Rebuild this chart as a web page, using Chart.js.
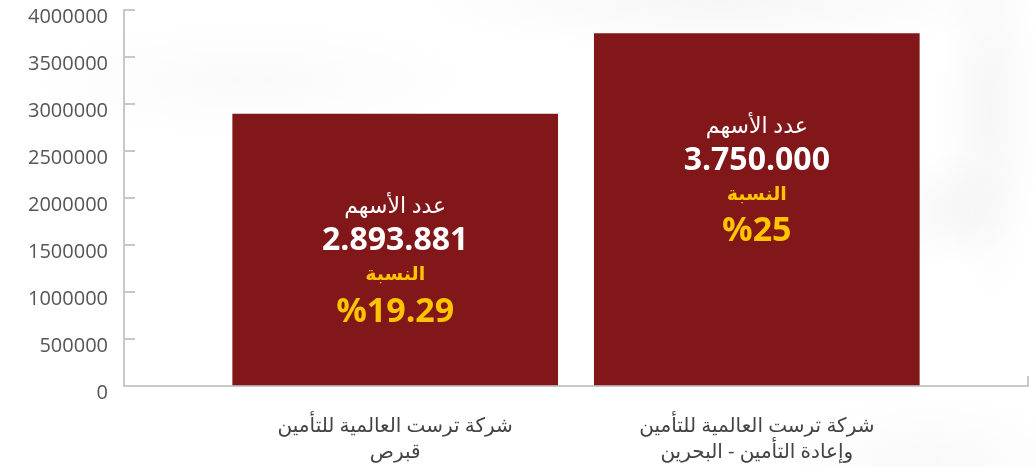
<!DOCTYPE html>
<html>
<head>
<meta charset="utf-8">
<script src="https://cdn.jsdelivr.net/npm/chart.js@4.4.1/dist/chart.umd.min.js"></script>
<style>
  html, body { margin: 0; padding: 0; }
  body {
    width: 1036px;
    height: 467px;
    overflow: hidden;
    background:
      radial-gradient(ellipse 420px 70px at 720px 0px, rgba(0,0,0,0.035), rgba(0,0,0,0) 75%),
      radial-gradient(ellipse 320px 80px at 250px 80px, rgba(0,0,0,0.02), rgba(0,0,0,0) 75%),
      radial-gradient(ellipse 70px 260px at 990px 110px, rgba(0,0,0,0.035), rgba(0,0,0,0) 75%),
      radial-gradient(ellipse 90px 80px at 950px 210px, rgba(0,0,0,0.03), rgba(0,0,0,0) 75%),
      radial-gradient(ellipse 200px 90px at 930px 460px, rgba(0,0,0,0.025), rgba(0,0,0,0) 75%),
      #ffffff;
  }
  #wrap { position: relative; width: 1036px; height: 467px; }
</style>
</head>
<body>
<div id="wrap"><canvas id="sharesChart"></canvas></div>
<script>
// company names (two lines each), share counts and the texts printed in the bars
const companies = [
    ['شركة ترست العالمية للتأمين', 'قبرص'],
    ['شركة ترست العالمية للتأمين', 'وإعادة التأمين - البحرين']
];
const shareCounts = [2893881, 3750000];
const shareTexts = ['2.893.881', '3.750.000'];
const percentTexts = ['%19.29', '%25'];
const sharesTitle = 'عدد الأسهم';
const percentTitle = 'النسبة';

const yMin = 0;
const yMax = 4000000;
const yStep = 500000;

// empty slots between and around the bars
let labels = [''];
let values = [null];
let textIndex = [null];
companies.forEach((c, i) => {
    labels.push(c, '');
    values.push(shareCounts[i], null);
    textIndex.push(i, null);
});

const fontFamily = "'Open Sans', 'DejaVu Sans', sans-serif";
const axisGray = '#c8c8c8';

const barText = {
    id: 'barText',
    afterDatasetsDraw(chart) {
        const ctx = chart.ctx;
        const meta = chart.getDatasetMeta(0);
        ctx.save();
        ctx.textAlign = 'center';
        ctx.textBaseline = 'middle';
        meta.data.forEach((bar, i) => {
            const k = textIndex[i];
            if (k === null) return;
            const x = bar.x;
            const top = bar.y;
            ctx.fillStyle = '#ffffff';
            ctx.font = "22px " + fontFamily;
            ctx.fillText(sharesTitle, x, top + 93);
            ctx.font = "bold 32px " + fontFamily;
            ctx.fillText(shareTexts[k], x, top + 127);
            ctx.fillStyle = '#ffc400';
            ctx.font = "bold 19px " + fontFamily;
            ctx.fillText(percentTitle, x, top + 161);
            ctx.font = "bold 34px " + fontFamily;
            ctx.fillText(percentTexts[k], x, top + 198);
        });
        ctx.restore();
    }
};

const ctx = document.getElementById('sharesChart').getContext('2d');
const chart = new Chart(ctx, {
    type: 'bar',
    data: {
        labels: labels,
        datasets: [{
            data: values,
            backgroundColor: '#82171a',
            borderWidth: 0,
            barThickness: 325,
            skipNull: true
        }]
    },
    options: {
        responsive: true,
        maintainAspectRatio: false,
        animation: false,
        layout: {
            padding: { top: 10, right: 8, bottom: 0, left: 0 }
        },
        plugins: {
            legend: { display: false },
            tooltip: { enabled: false }
        },
        scales: {
            x: {
                grid: {
                    display: true,
                    drawOnChartArea: false,
                    drawTicks: true,
                    tickLength: -10,
                    lineWidth: 2,
                    color: c => c.type === 'tick' ? 'rgba(0,0,0,0)' : axisGray
                },
                border: { display: true, color: axisGray, width: 2 },
                ticks: {
                    color: '#444444',
                    padding: 37,
                    maxRotation: 0,
                    autoSkip: false,
                    font: { family: fontFamily, size: 20, lineHeight: 1.3 }
                },
                afterFit: scale => {
                    scale.height = 81;
                }
            },
            y: {
                min: yMin,
                max: yMax,
                grid: {
                    drawOnChartArea: false,
                    drawTicks: true,
                    tickLength: -11,
                    lineWidth: 2,
                    color: axisGray
                },
                border: { display: true, color: axisGray, width: 2 },
                ticks: {
                    stepSize: yStep,
                    color: '#555555',
                    padding: 27,
                    labelOffset: 7,
                    font: { family: fontFamily, size: 20 },
                    callback: v => String(v)
                },
                afterFit: scale => {
                    scale.width = 124;
                    scale.paddingTop = 0;
                    scale.paddingBottom = 0;
                }
            }
        }
    },
    plugins: [barText]
});
</script>
</body>
</html>
